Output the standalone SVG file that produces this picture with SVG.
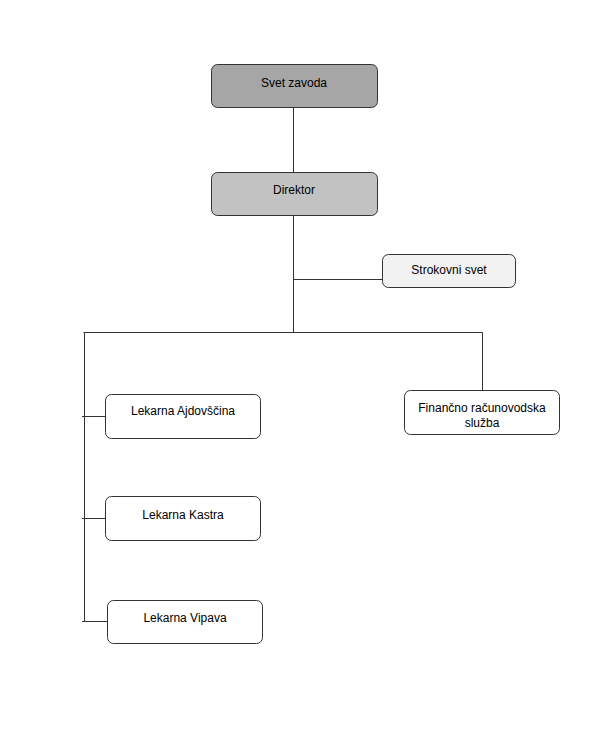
<svg xmlns="http://www.w3.org/2000/svg" width="605" height="751" viewBox="0 0 605 751">
<style>
.box{stroke:#333;stroke-width:1;}
.t{font-family:"Liberation Sans",Arial,sans-serif;font-size:12px;fill:#000;text-anchor:middle;}
.c{stroke:#333;stroke-width:1;fill:none;}
</style>
<rect width="605" height="751" fill="#fff"/>
<g id="connectors">
<path class="c" d="M293.5 108V172"/>
<path class="c" d="M293.5 215V332.5"/>
<path class="c" d="M293.5 279.5H382"/>
<path class="c" d="M83.5 332.5H482.5V390"/>
<path class="c" d="M84.5 332.5V622"/>
<path class="c" d="M82 416.5H105"/>
<path class="c" d="M82 518.5H105"/>
<path class="c" d="M82 621.5H107"/>
</g>
<g id="svet-zavoda">
<rect class="box" x="211.5" y="64.5" width="166" height="43" rx="6" fill="#a6a6a6"/>
<text class="t" x="294" y="87">Svet zavoda</text>
</g>
<g id="direktor">
<rect class="box" x="211.5" y="172.5" width="166" height="43" rx="6" fill="#c2c2c2"/>
<text class="t" x="294" y="194">Direktor</text>
</g>
<g id="strokovni-svet">
<rect class="box" x="382.5" y="254.5" width="133" height="33" rx="6" fill="#f2f2f2"/>
<text class="t" x="449" y="274">Strokovni svet</text>
</g>
<g id="financno">
<rect class="box" x="404.5" y="390.5" width="155" height="44" rx="6" fill="#fff"/>
<text class="t" x="482" y="412">Finančno računovodska</text>
<text class="t" x="482" y="427">služba</text>
</g>
<g id="ajdovscina">
<rect class="box" x="105.5" y="394.5" width="155" height="44" rx="6" fill="#fff"/>
<text class="t" x="183" y="415">Lekarna Ajdovščina</text>
</g>
<g id="kastra">
<rect class="box" x="105.5" y="496.5" width="155" height="44" rx="6" fill="#fff"/>
<text class="t" x="183" y="519">Lekarna Kastra</text>
</g>
<g id="vipava">
<rect class="box" x="107.5" y="600.5" width="155" height="43" rx="6" fill="#fff"/>
<text class="t" x="185" y="622">Lekarna Vipava</text>
</g>
</svg>
